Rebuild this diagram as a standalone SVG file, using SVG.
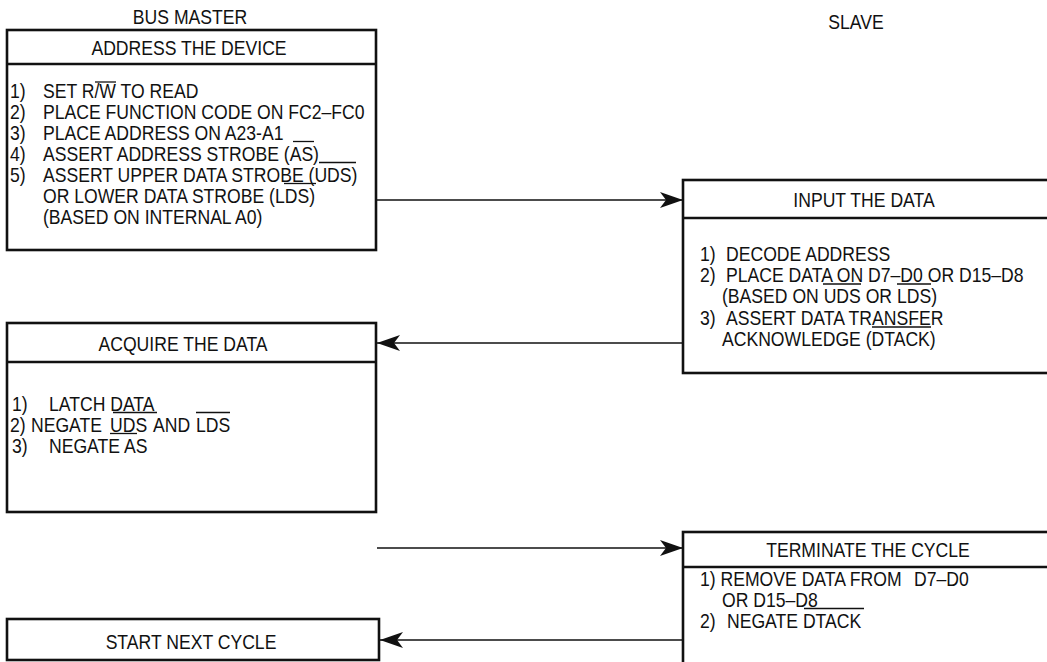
<svg xmlns="http://www.w3.org/2000/svg" width="1047" height="662" viewBox="0 0 1047 662">
<style>
.t{font-family:"Liberation Sans",Arial,sans-serif;font-size:20px;fill:#111}
.c{text-anchor:middle}
.box{fill:#fff;stroke:#111;stroke-width:2.6}
.div{stroke:#111;stroke-width:2.4}
.bar{stroke:#111;stroke-width:1.3}
.conn{stroke:#111;stroke-width:1.3;fill:none}
</style>
<defs>
<marker id="ah" viewBox="-24 -9 25 18" markerWidth="25" markerHeight="18" refX="0" refY="0" markerUnits="userSpaceOnUse" orient="auto">
<path d="M0,0 L-23,-8 L-17,0 L-23,8 Z" fill="#111"/>
</marker>
</defs>
<rect width="1047" height="662" fill="#fff"/>
<text class="t c" transform="translate(190 24) scale(.88 1)">BUS MASTER</text>
<text class="t c" transform="translate(856 29) scale(.88 1)">SLAVE</text>

<g id="connectors">
<line class="conn" x1="377" y1="200" x2="683" y2="200" marker-end="url(#ah)"/>
<line class="conn" x1="683" y1="343" x2="377" y2="343" marker-end="url(#ah)"/>
<line class="conn" x1="377" y1="548" x2="683" y2="548" marker-end="url(#ah)"/>
<line class="conn" x1="683" y1="640" x2="380" y2="640" marker-end="url(#ah)"/>
</g>

<g id="address-device">
<rect class="box" x="7" y="30" width="369" height="220"/>
<line class="div" x1="7" y1="64" x2="376" y2="64"/>
<text class="t c" transform="translate(189 55) scale(.88 1)">ADDRESS THE DEVICE</text>
<text class="t" transform="translate(10 98) scale(.88 1)">1)<tspan x="37.5">SET R/W TO READ</tspan></text>
<text class="t" transform="translate(10 119) scale(.88 1)">2)<tspan x="37.5">PLACE FUNCTION CODE ON FC2–FC0</tspan></text>
<text class="t" transform="translate(10 140) scale(.88 1)">3)<tspan x="37.5">PLACE ADDRESS ON A23-A1</tspan></text>
<text class="t" transform="translate(10 161) scale(.88 1)">4)<tspan x="37.5">ASSERT ADDRESS STROBE (AS)</tspan></text>
<text class="t" transform="translate(10 182) scale(.88 1)">5)<tspan x="37.5">ASSERT UPPER DATA STROBE (UDS)</tspan></text>
<text class="t" transform="translate(43 203) scale(.88 1)">OR LOWER DATA STROBE (LDS)</text>
<text class="t" transform="translate(43 224) scale(.88 1)">(BASED ON INTERNAL A0)</text>
<line class="bar" x1="95" y1="82" x2="116" y2="82"/>
<line class="bar" x1="293" y1="141.5" x2="314" y2="141.5"/>
<line class="bar" x1="319" y1="162.5" x2="356" y2="162.5"/>
<line class="bar" x1="284" y1="183.5" x2="316" y2="183.5"/>
</g>

<g id="input-data">
<rect class="box" x="683" y="180" width="390" height="193"/>
<line class="div" x1="683" y1="218" x2="1073" y2="218"/>
<text class="t c" transform="translate(864 207) scale(.88 1)">INPUT THE DATA</text>
<text class="t" transform="translate(700 261) scale(.88 1)">1)<tspan x="29.55">DECODE ADDRESS</tspan></text>
<text class="t" transform="translate(700 282) scale(.88 1)">2)<tspan x="29.55">PLACE DATA ON D7–D0 OR D15–D8</tspan></text>
<text class="t" transform="translate(722 303) scale(.88 1)">(BASED ON UDS OR LDS)</text>
<text class="t" transform="translate(700 325) scale(.88 1)">3)<tspan x="29.55">ASSERT DATA TRANSFER</tspan></text>
<text class="t" transform="translate(722 346) scale(.88 1)">ACKNOWLEDGE (DTACK)</text>
<line class="bar" x1="823" y1="284" x2="861" y2="284"/>
<line class="bar" x1="897" y1="284" x2="931" y2="284"/>
<line class="bar" x1="872" y1="327" x2="931" y2="327"/>
</g>

<g id="acquire-data">
<rect class="box" x="7" y="323" width="369" height="189"/>
<line class="div" x1="7" y1="362" x2="376" y2="362"/>
<text class="t c" transform="translate(183 351) scale(.88 1)">ACQUIRE THE DATA</text>
<text class="t" transform="translate(12 411) scale(.88 1)">1)<tspan x="42.05">LATCH DATA</tspan></text>
<text class="t" transform="translate(10 432) scale(.88 1)">2)<tspan x="23.86">NEGATE</tspan><tspan x="113.64">UDS</tspan><tspan x="162.5">AND</tspan><tspan x="211.36">LDS</tspan></text>
<text class="t" transform="translate(12 453) scale(.88 1)">3)<tspan x="42.05">NEGATE AS</tspan></text>
<line class="bar" x1="113" y1="412.5" x2="157" y2="412.5"/>
<line class="bar" x1="196" y1="412.5" x2="230" y2="412.5"/>
<line class="bar" x1="110" y1="433.5" x2="137" y2="433.5"/>
</g>

<g id="terminate-cycle">
<rect class="box" x="683" y="532" width="390" height="150"/>
<line class="div" x1="683" y1="567" x2="1073" y2="567"/>
<text class="t c" transform="translate(868 557) scale(.88 1)">TERMINATE THE CYCLE</text>
<text class="t" transform="translate(700 586) scale(.88 1)">1) REMOVE DATA FROM<tspan x="243.18">D7–D0</tspan></text>
<text class="t" transform="translate(722 607) scale(.88 1)">OR D15–D8</text>
<text class="t" transform="translate(700 628) scale(.88 1)">2)<tspan x="30.68">NEGATE DTACK</tspan></text>
<line class="bar" x1="804" y1="608.5" x2="864" y2="608.5"/>
</g>

<g id="start-next-cycle">
<rect class="box" x="7" y="619" width="372" height="41"/>
<text class="t c" transform="translate(191 649) scale(.88 1)">START NEXT CYCLE</text>
</g>
</svg>
